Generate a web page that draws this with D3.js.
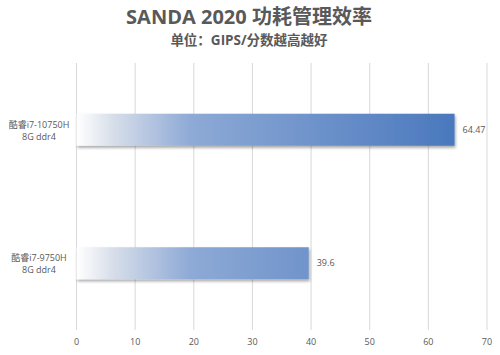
<html lang="zh">
<head>
<meta charset="utf-8">
<script src="https://d3js.org/d3.v7.min.js"></script>
<style>
  body { margin: 0; background: #fff; }
  text { font-family: "Open Sans", "Noto Sans CJK SC", sans-serif; }
</style>
</head>
<body>
<svg id="chart" width="500" height="355"></svg>
<script>
const cpus = ['酷睿i7-10750H', '酷睿i7-9750H']
const memory = ['8G ddr4', '8G ddr4']
const scores = [64.47, 39.6]
const ticks = [0, 10, 20, 30, 40, 50, 60, 70]

const svg = d3.select('#chart')

const x = d3.scaleLinear().domain([0, 70]).range([76.5, 487])
const y = d3.scaleBand().domain(cpus).range([63, 330]).paddingInner(0.76).paddingOuter(0.38)

const defs = svg.append('defs')
const grad = defs.append('linearGradient').attr('id', 'barGrad')
  .attr('gradientUnits', 'userSpaceOnUse')
  .attr('x1', x(0)).attr('x2', x(64.47)).attr('y1', 0).attr('y2', 0)
grad.append('stop').attr('offset', '0').attr('stop-color', '#ffffff')
grad.append('stop').attr('offset', '0.1').attr('stop-color', '#d6dde9')
grad.append('stop').attr('offset', '0.3').attr('stop-color', '#8eaad6')
grad.append('stop').attr('offset', '1').attr('stop-color', '#4a78bd')

const shadow = defs.append('filter').attr('id', 'shadow')
  .attr('x', '-5%').attr('y', '-20%').attr('width', '110%').attr('height', '150%')
shadow.append('feGaussianBlur').attr('in', 'SourceAlpha').attr('stdDeviation', 1.5)
shadow.append('feOffset').attr('dx', 1).attr('dy', 2).attr('result', 'b')
shadow.append('feComponentTransfer').append('feFuncA').attr('type', 'linear').attr('slope', 0.35)
const merge = shadow.append('feMerge')
merge.append('feMergeNode')
merge.append('feMergeNode').attr('in', 'SourceGraphic')

// title
svg.append('text').attr('x', 249).attr('y', 24).attr('text-anchor', 'middle')
  .attr('font-size', 20).attr('font-weight', 'bold').attr('fill', '#595959')
  .text('SANDA 2020 功耗管理效率')
svg.append('text').attr('x', 249).attr('y', 45).attr('text-anchor', 'middle')
  .attr('font-size', 13.5).attr('font-weight', 'bold').attr('fill', '#595959')
  .text('单位：GIPS/分数越高越好')

// gridlines
svg.append('g').selectAll('line').data(ticks).join('line')
  .attr('x1', d => x(d)).attr('x2', d => x(d))
  .attr('y1', 63).attr('y2', 330)
  .attr('stroke', '#d9d9d9').attr('stroke-width', 1)

// tick labels
svg.append('g').selectAll('text').data(ticks).join('text')
  .attr('x', d => x(d)).attr('y', 345).attr('text-anchor', 'middle')
  .attr('font-size', 9).attr('fill', '#595959')
  .text(d => d)

// bars
svg.append('g').selectAll('rect').data(scores).join('rect')
  .attr('x', x(0))
  .attr('y', (d, i) => y(cpus[i]))
  .attr('width', d => x(d) - x(0))
  .attr('height', y.bandwidth())
  .attr('fill', 'url(#barGrad)')
  .attr('filter', 'url(#shadow)')

// value labels
svg.append('g').selectAll('text').data(scores).join('text')
  .attr('x', d => x(d) + 8)
  .attr('y', (d, i) => y(cpus[i]) + y.bandwidth() / 2 + 3)
  .attr('font-size', 9).attr('fill', '#595959')
  .text(d => d)

// category labels
const cat = svg.append('g').selectAll('text').data(cpus).join('text')
  .attr('text-anchor', 'middle')
  .attr('font-size', 9).attr('fill', '#595959')
cat.append('tspan').attr('x', 39).attr('y', d => y(d) + y.bandwidth() / 2 - 2).text(d => d)
cat.append('tspan').attr('x', 39).attr('y', d => y(d) + y.bandwidth() / 2 + 10).text((d, i) => memory[i])
</script>
</body>
</html>
